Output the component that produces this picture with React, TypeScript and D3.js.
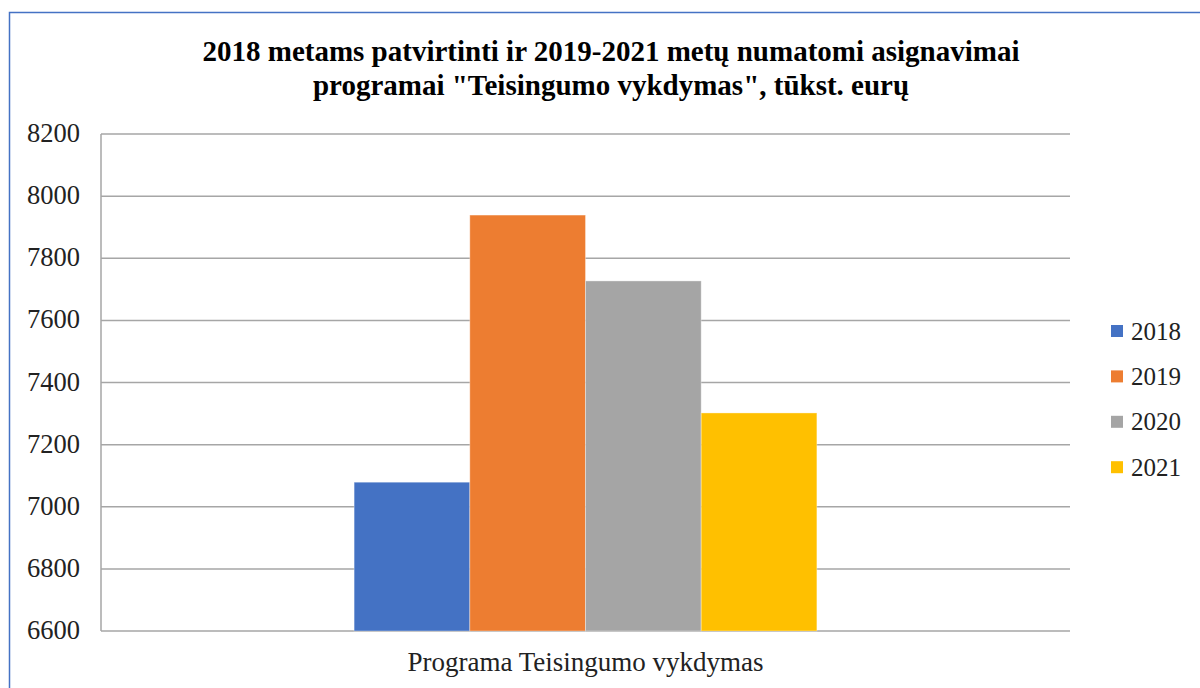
import React from "react";
import * as d3 from "d3";

const categories = ["Programa Teisingumo vykdymas"];
const seriesNames = ["2018", "2019", "2020", "2021"];
const seriesValues = [7079, 7939, 7727, 7302];
const seriesColors = ["#4472C4", "#ED7D31", "#A5A5A5", "#FFC000"];
const yTicks = [6600, 6800, 7000, 7200, 7400, 7600, 7800, 8000, 8200];
const titleLines = [
  "2018 metams patvirtinti ir 2019-2021 metų numatomi asignavimai",
  "programai \"Teisingumo vykdymas\", tūkst. eurų",
];

const W = 1200;
const H = 688;
const plot = { left: 101, right: 1070, top: 134, bottom: 631 };
const fontStyle = { fontFamily: "Liberation Serif" };

export default function App() {
  const y = d3.scaleLinear().domain([6600, 8200]).range([plot.bottom, plot.top]);
  const x0 = d3
    .scaleBand<string>()
    .domain(categories)
    .range([plot.left, plot.right])
    .paddingInner(0)
    .paddingOuter(0.547);
  const x1 = d3
    .scaleBand<string>()
    .domain(seriesNames)
    .range([0, x0.bandwidth()])
    .padding(0);

  return (
    <svg
      width={W}
      height={H}
      style={{ position: "absolute", left: 0, top: 0, background: "#fff" }}
    >
      <rect x={0} y={0} width={W} height={H} fill="#fff" />
      <rect x={9.5} y={12.5} width={W + 20} height={H + 20} fill="none" stroke="#4472C4" strokeWidth={1.5} />
      {titleLines.map((t, i) => (
        <text
          key={i}
          x={611}
          y={61 + i * 34}
          textAnchor="middle"
          fontSize={29}
          fontWeight="bold"
          fill="#000"
          style={fontStyle}
        >
          {t}
        </text>
      ))}
      {yTicks.map((t) => (
        <line
          key={t}
          x1={plot.left}
          x2={plot.right}
          y1={y(t)}
          y2={y(t)}
          stroke="#A6A6A6"
          strokeWidth={1.5}
        />
      ))}
      <line x1={plot.left} x2={plot.left} y1={plot.top} y2={plot.bottom} stroke="#A6A6A6" strokeWidth={1.5} />
      {yTicks.map((t) => (
        <text key={"l" + t} x={80} y={y(t) + 8} textAnchor="end" fontSize={26.5} fill="#222" style={fontStyle}>
          {t}
        </text>
      ))}
      {categories.map((c) => (
        <g key={c} transform={`translate(${x0(c)},0)`}>
          {seriesNames.map((s, i) => (
            <rect
              key={s}
              x={x1(s)}
              y={y(seriesValues[i])}
              width={x1.bandwidth()}
              height={plot.bottom - y(seriesValues[i])}
              fill={seriesColors[i]}
              stroke="#fff"
              strokeOpacity={0.35}
              strokeWidth={1}
            />
          ))}
        </g>
      ))}
      {categories.map((c) => (
        <text
          key={"c" + c}
          x={(x0(c) as number) + x0.bandwidth() / 2}
          y={671}
          textAnchor="middle"
          fontSize={27}
          fill="#222"
          style={fontStyle}
        >
          {c}
        </text>
      ))}
      {seriesNames.map((s, i) => (
        <g key={"lg" + s} transform={`translate(1111, ${331 + i * 45.4})`}>
          <rect x={0} y={-6} width={12} height={12} fill={seriesColors[i]} />
          <text x={20} y={8.5} fontSize={25} fill="#222" style={fontStyle}>
            {s}
          </text>
        </g>
      ))}
    </svg>
  );
}
